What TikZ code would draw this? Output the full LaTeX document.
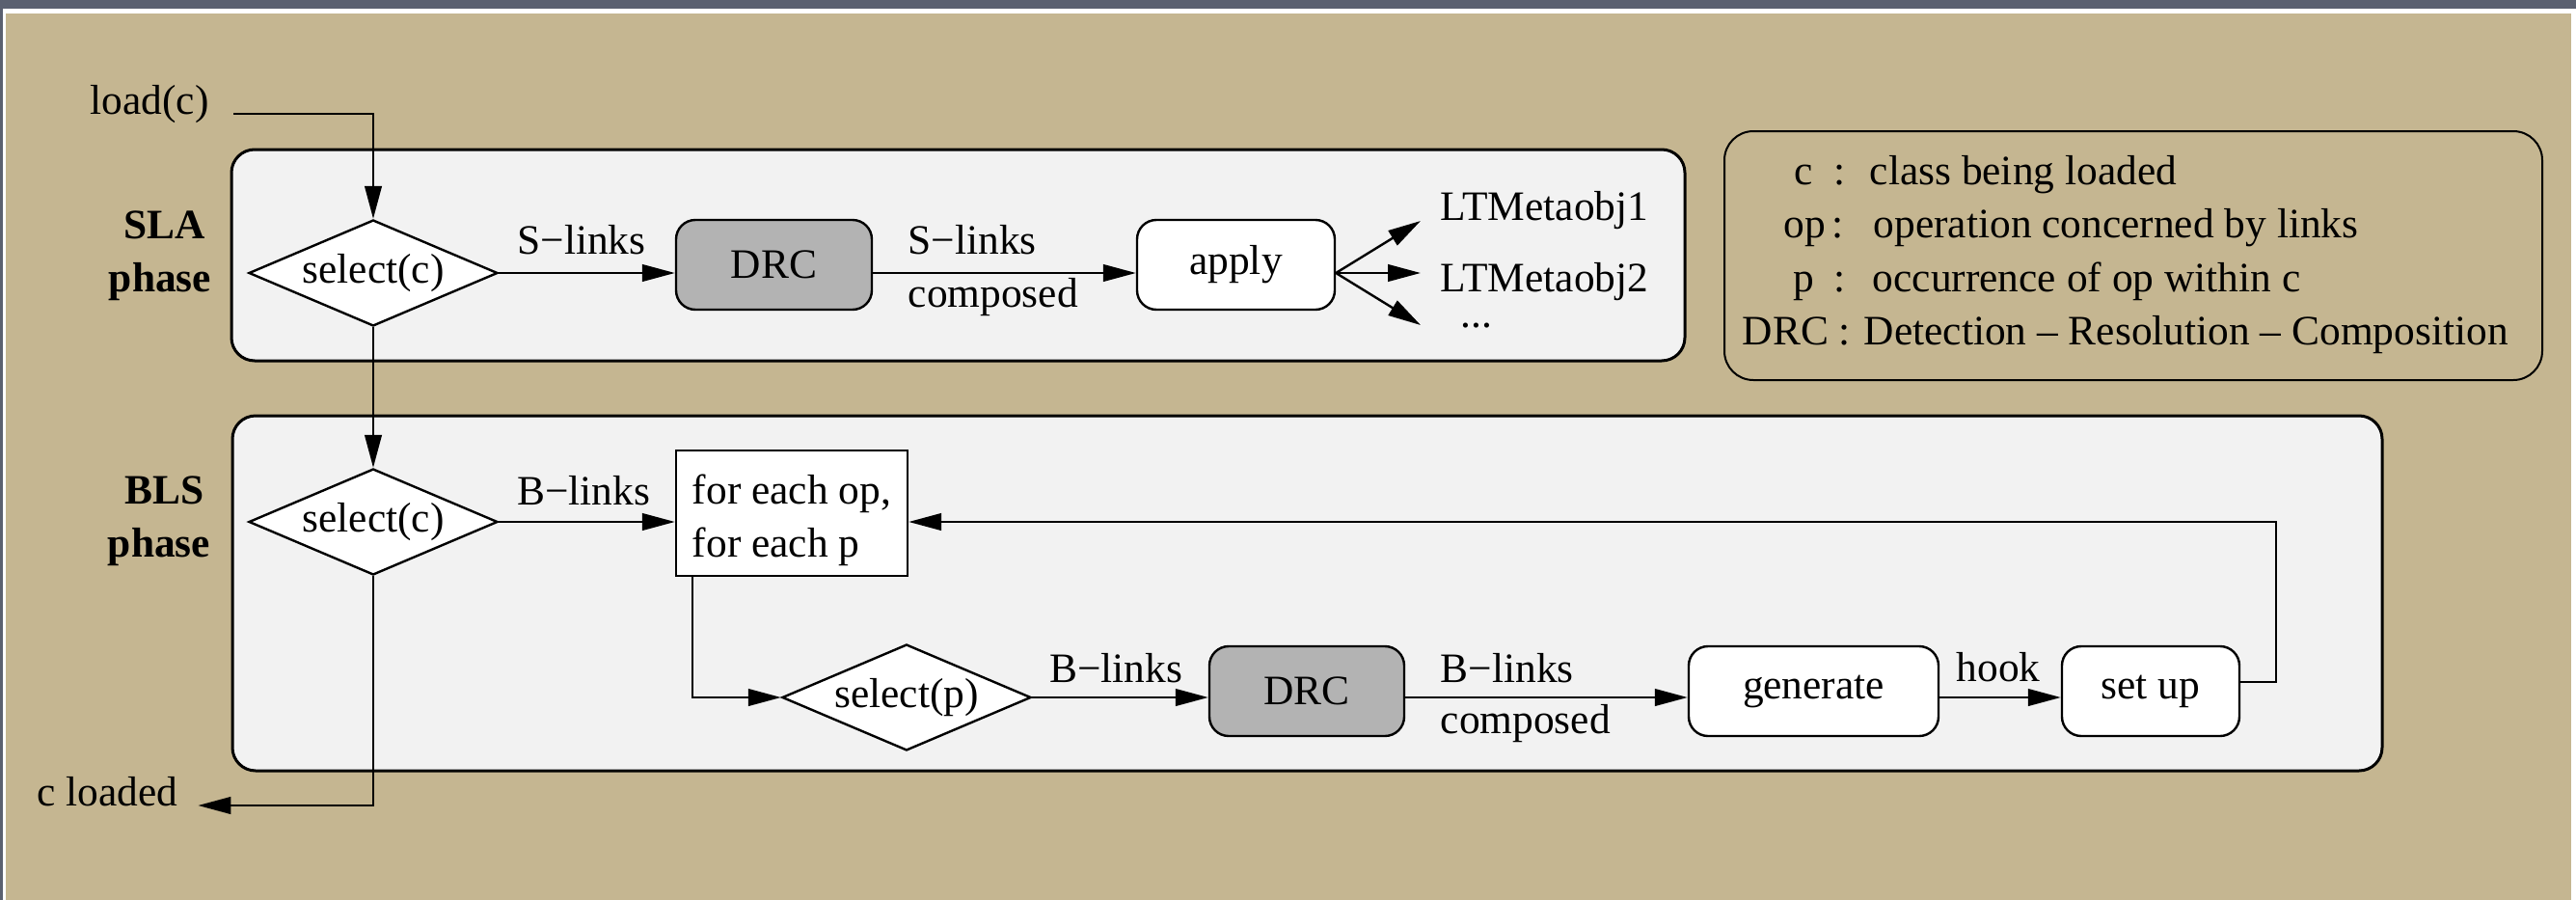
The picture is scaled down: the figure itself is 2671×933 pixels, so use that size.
\documentclass[tikz,border=0pt]{standalone}
\usepackage{fontspec}
\setmainfont{Liberation Serif}
\usetikzlibrary{shapes.geometric,arrows.meta}
\definecolor{tanbg}{RGB}{197,182,145}
\definecolor{strip}{RGB}{90,96,112}
\definecolor{panel}{RGB}{242,242,242}
\definecolor{drcgray}{RGB}{179,179,179}
\begin{document}
\begin{tikzpicture}[x=0.25pt,y=-0.25pt,
  every node/.style={font=\fontsize{10.85}{13.75}\selectfont, inner sep=0pt},
  txt/.style={anchor=base},
  phaselbl/.style={anchor=base, font=\fontsize{10.85}{13.75}\selectfont\bfseries},
  arr/.style={-{Triangle[length=8.5pt,width=4.4pt]}, line width=0.6pt},
  phasebox/.style={draw, line width=0.75pt, fill=panel, rounded corners=6pt},
  legendbox/.style={draw, line width=0.5pt, rounded corners=7.5pt},
  decision/.style={draw, diamond, fill=white, line width=0.6pt, minimum width=64.5pt, minimum height=27.5pt, aspect=2.35},
  procbox/.style={draw, fill=white, rounded corners=5pt, line width=0.6pt, minimum height=23.25pt},
  drcbox/.style={procbox, fill=drcgray},
  loopbox/.style={draw, fill=white, line width=0.6pt, minimum width=60pt, minimum height=32.5pt, align=left}
]
\useasboundingbox (0,0) rectangle (2671,933);
% background
\fill[tanbg] (0,0) rectangle (2671,933);
\fill[strip] (0,0) rectangle (2671,9);
\fill[white] (0,9) rectangle (2671,14);
\fill[strip] (0,0) rectangle (3,933);
\fill[white] (3,9) rectangle (6,933);
\fill[white] (2666,9) rectangle (2671,933);

% phase frames and legend frame
\draw[phasebox] (240,155) rectangle (1747,374);
\draw[phasebox] (241,431) rectangle (2470,799);
\draw[legendbox] (1788,136) rectangle (2636,394);

% phase labels
\node[phaselbl] (slaA) at (171,247) {SLA};
\node[phaselbl] (slaB) at (166,302) {phase};
\node[phaselbl] (blsA) at (171,522) {BLS};
\node[phaselbl] (blsB) at (165,577) {phase};

% SLA phase
\node[txt, anchor=base west] (load) at (93,118) {load(c)};
\node[decision] (sel1) at (387,283) {select(c)};
\node[drcbox, minimum width=50.75pt] (drc1) at (802.5,274.5) {DRC};
\node[procbox, minimum width=51.25pt] (apply) at (1281.5,274.5) {apply};
\node[txt, anchor=base west] (lt1) at (1493,228) {LTMetaobj1};
\node[txt, anchor=base west] (lt2) at (1493,302) {LTMetaobj2};
\node[txt, anchor=base west] (dots) at (1514,339) {...};
\coordinate (f1) at (1473,229);
\coordinate (f2) at (1473,283);
\coordinate (f3) at (1473,337);
\node[txt] (l1) at (603,263) {S−links};
\node[txt, anchor=base west] (l2) at (941,263) {S−links};
\node[txt, anchor=base west] (l3) at (941,318) {composed};

% BLS phase
\node[decision] (sel2) at (387,541) {select(c)};
\node[loopbox] (fe) at (821,532) {\rule{0pt}{11.4pt}for each op,\\for each p};
\node[decision] (sel3) at (940,723) {select(p)};
\node[drcbox, minimum width=50.5pt] (drc2) at (1355,716.5) {DRC};
\node[procbox, minimum width=64.75pt] (gen) at (1880.5,716.5) {generate};
\node[procbox, minimum width=46pt] (setup) at (2230,716.5) {set up};
\node[txt, anchor=base west] (cl) at (38,835) {c loaded};
\node[txt] (l4) at (605,523) {B−links};
\node[txt] (l5) at (1157,707) {B−links};
\node[txt, anchor=base west] (l6) at (1493,707) {B−links};
\node[txt, anchor=base west] (l7) at (1493,760) {composed};
\node[txt] (l8) at (2072,706) {hook};

% legend
\node[txt] (kc) at (1870,191) {c};
\node[txt] (kc2) at (1908,191) {:};
\node[txt, anchor=base west] (kc3) at (1938,191) {class being loaded};
\node[txt] (ko) at (1871,246) {op};
\node[txt] (ko2) at (1906,246) {:};
\node[txt, anchor=base west] (ko3) at (1942,246) {operation concerned by links};
\node[txt] (kp) at (1870,302) {p};
\node[txt] (kp2) at (1908,302) {:};
\node[txt, anchor=base west] (kp3) at (1941,302) {occurrence of op within c};
\node[txt] (kd) at (1851.5,357) {DRC};
\node[txt] (kd2) at (1913,357) {:};
\node[txt, anchor=base west] (kd3) at (1932,357) {Detection – Resolution – Composition};

% connectors
\draw[arr] ([xshift=6.25pt]load.base east) -| (sel1.north);
\draw[arr] (sel1.east) -- (sel1.east -| drc1.west);
\draw[arr] (drc1.east |- sel1.east) -- (sel1.east -| apply.west);
\draw[arr] (apply.east |- sel1.east) -- (f1);
\draw[arr] (apply.east |- sel1.east) -- (f2);
\draw[arr] (apply.east |- sel1.east) -- (f3);
\draw[arr] (sel1.south) -- (sel2.north);
\draw[arr] (sel2.east) -- (sel2.east -| fe.west);
\draw[arr] ([xshift=4.5pt]fe.south west) |- (sel3.west);
\draw[arr] (sel3.east) -- (sel3.east -| drc2.west);
\draw[arr] (drc2.east |- sel3.east) -- (sel3.east -| gen.west);
\draw[arr] (gen.east |- sel3.east) -- (sel3.east -| setup.west);
\draw[arr] ([yshift=2.4pt]setup.east) -- ++(9.25pt,0) |- (fe.east |- sel2.east);
\draw[arr] (sel2.south) |- ([xshift=5pt]cl.base east);
\end{tikzpicture}
\end{document}
